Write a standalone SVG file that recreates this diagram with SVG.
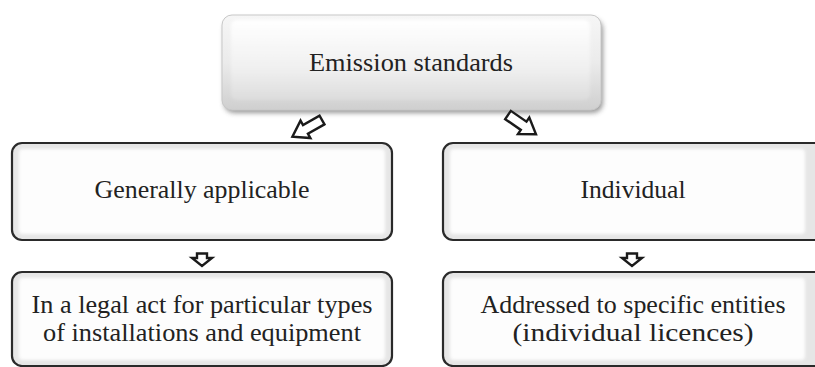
<svg xmlns="http://www.w3.org/2000/svg" width="815" height="367" viewBox="0 0 815 367">
<style>
.lbl{font-family:'Liberation Serif','Tinos','Noto Serif','DejaVu Serif',Times,serif;fill:#222;text-anchor:middle}
.frame{fill:#e6e6e6;stroke:#2a2a2a;stroke-width:2.2}
.inner{fill:#fdfdfd;filter:url(#soft)}
.arr{fill:#fff;stroke:#1a1a1a;stroke-width:2.4;stroke-linejoin:miter}
</style>
<defs>
<filter id="soft" x="-5%" y="-10%" width="110%" height="120%"><feGaussianBlur stdDeviation="1.6"/></filter>
<filter id="shadow" x="-5%" y="-10%" width="110%" height="130%"><feGaussianBlur stdDeviation="2.5"/></filter>
<linearGradient id="topg" x1="0" y1="0" x2="0" y2="1">
<stop offset="0" stop-color="#f6f6f6"/>
<stop offset="0.5" stop-color="#ebebeb"/>
<stop offset="1" stop-color="#cfcfcf"/>
</linearGradient>
<linearGradient id="topin" x1="0" y1="0" x2="0" y2="1">
<stop offset="0" stop-color="#ffffff"/>
<stop offset="0.6" stop-color="#f0f0f0"/>
<stop offset="1" stop-color="#dcdcdc"/>
</linearGradient>
<path id="diag" d="M0,-5 L19,-5 L19,-10 L34,0 L19,10 L19,5 L0,5 Z"/>
<path id="down" d="M-5,0 L5,0 L5,4.5 L10,4.5 L0,12.5 L-10,4.5 L-5,4.5 Z"/>
</defs>
<rect width="815" height="367" fill="#fff"/>

<g id="node-emission">
<rect x="224" y="19" width="379" height="94" rx="10" fill="#555" opacity="0.6" filter="url(#shadow)"/>
<rect x="222" y="15" width="379" height="95" rx="10" fill="url(#topg)" stroke="#c8c8c8" stroke-width="1"/>
<rect x="231" y="20" width="359" height="80" rx="6" fill="url(#topin)" filter="url(#soft)"/>
<text class="lbl" x="411" y="71" font-size="26" textLength="204" lengthAdjust="spacingAndGlyphs">Emission standards</text>
</g>

<g id="node-general">
<rect class="frame" x="12" y="143" width="380" height="97" rx="10"/>
<rect class="inner" x="19" y="149" width="366" height="85" rx="4"/>
<text class="lbl" x="202" y="198" font-size="25.5" textLength="215" lengthAdjust="spacingAndGlyphs">Generally applicable</text>
</g>

<g id="node-individual">
<rect class="frame" x="443" y="143" width="400" height="97" rx="10"/>
<rect class="inner" x="450" y="149" width="355" height="85" rx="4"/>
<text class="lbl" x="633" y="198" font-size="25.5" textLength="105" lengthAdjust="spacingAndGlyphs">Individual</text>
</g>

<g id="node-legal">
<rect class="frame" x="12" y="272" width="380" height="94" rx="10"/>
<rect class="inner" x="19" y="278" width="366" height="82" rx="4"/>
<text class="lbl" x="202" y="313" font-size="25" textLength="341" lengthAdjust="spacingAndGlyphs">In a legal act for particular types</text>
<text class="lbl" x="202" y="341" font-size="25" textLength="318" lengthAdjust="spacingAndGlyphs">of installations and equipment</text>
</g>

<g id="node-addressed">
<rect class="frame" x="443" y="272" width="400" height="94" rx="10"/>
<rect class="inner" x="450" y="278" width="355" height="82" rx="4"/>
<text class="lbl" x="633" y="313" font-size="25" textLength="305" lengthAdjust="spacingAndGlyphs">Addressed to specific entities</text>
<text class="lbl" x="633" y="341" font-size="25" textLength="241" lengthAdjust="spacingAndGlyphs">(individual licences)</text>
</g>

<g id="connectors">
<use href="#diag" class="arr" transform="translate(322,120) rotate(150.5)"/>
<use href="#diag" class="arr" transform="translate(508,115) rotate(34.6)"/>
<use href="#down" class="arr" transform="translate(202,253.5)"/>
<use href="#down" class="arr" transform="translate(632,253.5)"/>
</g>
</svg>
